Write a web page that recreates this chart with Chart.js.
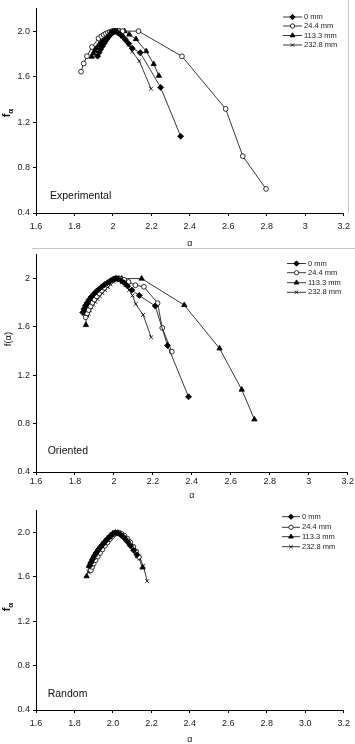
<!DOCTYPE html>
<html><head><meta charset="utf-8">
<script src="https://cdn.jsdelivr.net/npm/chart.js@4.4.1/dist/chart.umd.min.js"></script>
<style>
html,body{margin:0;padding:0;background:#fff;width:355px;height:744px;overflow:hidden;}
.panel{position:absolute;left:0;width:355px;}
</style></head><body>
<div class="panel" style="top:0;height:250px"><canvas id="c1"></canvas></div>
<div class="panel" style="top:246px;height:256px"><canvas id="c2"></canvas></div>
<div class="panel" style="top:502px;height:244px"><canvas id="c3"></canvas></div>
<script>
// ---- common tick labels ----
const xTickValues = [1.6,1.8,2.0,2.2,2.4,2.6,2.8,3.0,3.2];
const xLabelsGeneral = ['1.6','1.8','2','2.2','2.4','2.6','2.8','3','3.2'];
const xLabelsFixed = ['1.6','1.8','2.0','2.2','2.4','2.6','2.8','3.0','3.2'];
const yTickValues = [0.4,0.8,1.2,1.6,2.0];
const yLabelsFixed = ['0.4','0.8','1.2','1.6','2.0'];
const yLabelsGeneral = ['0.4','0.8','1.2','1.6','2'];
const seriesNames = ['0 mm','24.4 mm','113.3 mm','232.8 mm'];

// ---- Experimental ----
const expA_0   = [1.920,1.928,1.936,1.945,1.953,1.961,1.970,1.978,1.986,1.993,2.000,2.007,2.014,2.022,2.030,2.040,2.052,2.066,2.082,2.100,2.142,2.248,2.352];
const expF_0   = [1.780,1.812,1.840,1.866,1.890,1.912,1.933,1.952,1.970,1.985,1.995,2.000,1.998,1.992,1.982,1.968,1.948,1.922,1.890,1.850,1.810,1.505,1.075];
const expA_24  = [1.834,1.848,1.865,1.891,1.925,1.940,1.952,1.963,1.974,1.984,1.993,2.000,2.008,2.018,2.030,2.050,2.133,2.359,2.586,2.675,2.796];
const expF_24  = [1.643,1.715,1.780,1.860,1.937,1.955,1.968,1.978,1.987,1.993,1.998,2.000,2.000,2.000,2.000,2.000,2.000,1.778,1.316,0.900,0.612];
const expA_113 = [1.890,1.898,1.906,1.915,1.925,1.935,1.946,1.957,1.968,1.979,1.990,2.000,2.010,2.022,2.036,2.060,2.085,2.120,2.173,2.212,2.239];
const expF_113 = [1.775,1.805,1.830,1.852,1.873,1.893,1.912,1.930,1.948,1.965,1.980,1.992,1.998,2.000,1.998,2.000,1.970,1.930,1.823,1.710,1.607];
const expA_232 = [1.900,1.908,1.916,1.925,1.934,1.944,1.955,1.966,1.977,1.988,1.998,2.008,2.020,2.034,2.050,2.066,2.083,2.100,2.137,2.198];
const expF_232 = [1.800,1.826,1.850,1.872,1.892,1.910,1.930,1.948,1.964,1.978,1.988,1.993,1.988,1.975,1.955,1.925,1.880,1.820,1.737,1.493];

// ---- Oriented ----
const oriA_0   = [1.840,1.846,1.853,1.862,1.872,1.883,1.895,1.908,1.922,1.937,1.952,1.967,1.982,1.995,2.008,2.022,2.036,2.052,2.070,2.092,2.130,2.212,2.275,2.383];
const oriF_0   = [1.720,1.748,1.775,1.800,1.825,1.848,1.870,1.892,1.912,1.932,1.950,1.966,1.982,1.993,2.000,1.997,1.985,1.965,1.938,1.905,1.860,1.773,1.446,1.022];
const oriA_24  = [1.855,1.862,1.870,1.880,1.890,1.900,1.912,1.925,1.938,1.952,1.966,1.980,1.993,2.005,2.018,2.034,2.052,2.075,2.110,2.154,2.224,2.248,2.297];
const oriF_24  = [1.680,1.712,1.740,1.770,1.800,1.826,1.852,1.876,1.900,1.924,1.948,1.968,1.985,1.996,2.000,1.998,1.990,1.972,1.945,1.932,1.797,1.592,1.395];
const oriA_113 = [1.856,1.858,1.862,1.870,1.880,1.892,1.905,1.918,1.932,1.946,1.960,1.974,1.988,2.000,2.012,2.025,2.040,2.142,2.361,2.542,2.656,2.721];
const oriF_113 = [1.616,1.700,1.735,1.765,1.795,1.822,1.848,1.872,1.895,1.918,1.940,1.962,1.982,1.995,2.000,2.000,2.000,2.000,1.781,1.422,1.081,0.835];
const oriA_232 = [1.870,1.877,1.885,1.894,1.904,1.915,1.927,1.940,1.954,1.968,1.982,1.996,2.010,2.025,2.042,2.060,2.078,2.095,2.112,2.150,2.191];
const oriF_232 = [1.710,1.738,1.762,1.785,1.808,1.832,1.856,1.880,1.905,1.930,1.955,1.975,1.988,1.988,1.972,1.945,1.905,1.860,1.790,1.700,1.514];

// ---- Random ----
const rndA_0   = [1.880,1.887,1.895,1.904,1.914,1.925,1.937,1.950,1.963,1.976,1.989,2.000,2.012,2.024,2.037,2.050,2.063,2.077,2.092,2.108,2.125];
const rndF_0   = [1.700,1.730,1.760,1.790,1.818,1.846,1.872,1.898,1.924,1.948,1.970,1.990,1.998,1.995,1.985,1.968,1.945,1.915,1.880,1.840,1.800];
const rndA_24  = [1.885,1.892,1.900,1.910,1.921,1.933,1.945,1.958,1.971,1.984,1.996,2.008,2.020,2.033,2.046,2.060,2.075,2.090,2.106,2.120,2.135];
const rndF_24  = [1.660,1.690,1.720,1.752,1.784,1.816,1.848,1.880,1.910,1.940,1.965,1.985,1.997,1.998,1.988,1.970,1.945,1.912,1.872,1.830,1.780];
const rndA_113 = [1.863,1.875,1.884,1.894,1.905,1.917,1.930,1.944,1.958,1.972,1.986,2.000,2.013,2.026,2.040,2.054,2.070,2.088,2.108,2.130,2.154];
const rndF_113 = [1.606,1.700,1.735,1.770,1.803,1.835,1.866,1.896,1.924,1.950,1.974,1.992,2.000,1.998,1.986,1.966,1.938,1.900,1.850,1.790,1.685];
const rndA_232 = [1.875,1.882,1.890,1.899,1.909,1.920,1.932,1.945,1.958,1.971,1.984,1.997,2.010,2.023,2.037,2.051,2.066,2.082,2.100,2.120,2.140,2.158,2.178];
const rndF_232 = [1.640,1.668,1.698,1.728,1.760,1.792,1.825,1.858,1.890,1.920,1.948,1.972,1.990,1.996,1.990,1.975,1.952,1.920,1.878,1.826,1.765,1.700,1.562];

const markerStyles = [
  {pointStyle:'rectRot', radius:3.0, fill:'#000'},
  {pointStyle:'circle', radius:2.4, fill:'#fff'},
  {pointStyle:'triangle', radius:3.1, fill:'#000'},
  {pointStyle:'crossRot', radius:2.8, fill:'#000'}
];
const FONT = '"Liberation Sans", Arial, Helvetica, sans-serif';

const decor = {
  id:'decor',
  afterDraw(chart, args, o){
    const ctx = chart.ctx;
    const H = Chart.helpers;
    ctx.save();
    if (o.extraLines) {
      ctx.strokeStyle = '#c8c8c8'; ctx.lineWidth = 1;
      o.extraLines.forEach(l=>{ctx.beginPath();ctx.moveTo(l[0],l[1]);ctx.lineTo(l[2],l[3]);ctx.stroke();});
    }
    // panel label
    ctx.fillStyle = '#111';
    ctx.font = o.labelSize + 'px ' + FONT;
    ctx.textBaseline = 'middle'; ctx.textAlign = 'left';
    ctx.fillText(o.label, o.labelX, o.labelY);
    // legend
    ctx.font = '7.5px ' + FONT;
    seriesNames.forEach((name,i)=>{
      const y = o.legY[i];
      ctx.strokeStyle = '#222'; ctx.lineWidth = 0.9;
      ctx.beginPath(); ctx.moveTo(o.legX1, y); ctx.lineTo(o.legX2, y); ctx.stroke();
      const m = markerStyles[i];
      ctx.fillStyle = m.fill; ctx.strokeStyle = '#000'; ctx.lineWidth = 0.8;
      H.drawPoint(ctx, {pointStyle:m.pointStyle, radius:m.radius*0.9, rotation:0, borderWidth:0.8}, (o.legX1+o.legX2)/2, y);
      ctx.fillStyle = '#222';
      ctx.fillText(name, o.legTX, y);
    });
    // y title
    ctx.translate(o.yTitleX, o.yTitleY);
    ctx.rotate(-Math.PI/2);
    ctx.fillStyle = '#111';
    if (o.ySub) {
      ctx.font = 'bold 11px ' + FONT;
      const w1 = ctx.measureText(o.yMain).width;
      ctx.font = 'bold 8px ' + FONT;
      const w2 = ctx.measureText(o.ySub).width;
      const start = -(w1+w2)/2;
      ctx.textAlign = 'left'; ctx.textBaseline = 'middle';
      ctx.font = 'bold 11px ' + FONT;
      ctx.fillText(o.yMain, start, -1);
      ctx.font = 'bold 8px ' + FONT;
      ctx.fillText(o.ySub, start + w1, 2.5);
    } else {
      ctx.font = '9.5px ' + FONT;
      ctx.textAlign = 'center'; ctx.textBaseline = 'middle';
      ctx.fillText(o.yMain, 0, 0);
    }
    ctx.restore();
  }
};

function makeChart(id, Hgt, top, bottom, aArrs, fArrs, xLabels, yLabels, xPad, decorOpts) {
  const datasets = aArrs.map((a, k) => ({
    label: seriesNames[k],
    data: a.map((v, i) => ({x: v, y: fArrs[k][i]})),
    showLine: true,
    borderColor: '#222',
    borderWidth: 0.9,
    pointStyle: markerStyles[k].pointStyle,
    pointRadius: markerStyles[k].radius,
    pointBackgroundColor: markerStyles[k].fill,
    pointBorderColor: '#000',
    pointBorderWidth: 0.8,
    tension: 0
  }));
  return new Chart(document.getElementById(id), {
    type: 'scatter',
    data: {datasets},
    options: {
      responsive: true, maintainAspectRatio: false, animation: false,
      layout: {padding: {top: top, left: 0, right: 7, bottom: 0}},
      plugins: {legend: {display: false}, tooltip: {enabled: false}, decor: decorOpts},
      scales: {
        x: {
          type: 'linear', min: 1.6, max: 3.2,
          afterFit(s){ s.height = Hgt - bottom; },
          afterBuildTicks(s){ s.ticks = xTickValues.map(v => ({value: v})); },
          ticks: {callback: (v, i) => xLabels[i], font: {size: 9, family: FONT}, color: '#222', padding: xPad, maxRotation: 0, autoSkip: false},
          grid: {drawOnChartArea: false, drawTicks: true, tickLength: 3, color: '#000', lineWidth: 1},
          border: {color: '#000', width: 1},
          title: {display: true, text: 'α', font: {size: 9, family: FONT}, color: '#222', padding: {top: 0, bottom: 0.6}}
        },
        y: {
          type: 'linear', min: 0.4, max: 2.2,
          afterFit(s){ s.width = 36; },
          afterBuildTicks(s){ s.ticks = yTickValues.map(v => ({value: v})); },
          ticks: {callback: (v, i) => yLabels[i], font: {size: 9, family: FONT}, color: '#222', padding: 3, autoSkip: false},
          grid: {drawOnChartArea: false, drawTicks: true, tickLength: 3, color: '#000', lineWidth: 1},
          border: {color: '#000', width: 1},
          title: {display: false}
        }
      }
    },
    plugins: [decor]
  });
}

makeChart('c1', 250, 3, 213,
  [expA_0, expA_24, expA_113, expA_232], [expF_0, expF_24, expF_113, expF_232],
  xLabelsGeneral, yLabelsFixed, 5,
  {label:'Experimental', labelSize:10.5, labelX:50, labelY:196,
   legX1:283, legX2:302, legTX:304, legY:[17,26,35.5,45],
   yTitleX:8, yTitleY:113, yMain:'f', ySub:'α',
   extraLines:[[32,248.5,355,248.5],[348.5,0,348.5,213]]});

makeChart('c2', 256, 4, 226,
  [oriA_0, oriA_24, oriA_113, oriA_232], [oriF_0, oriF_24, oriF_113, oriF_232],
  xLabelsGeneral, yLabelsGeneral, 1,
  {label:'Oriented', labelSize:10.5, labelX:47.7, labelY:204.7,
   legX1:287, legX2:306, legTX:308, legY:[17.5,26.7,36.7,46.3],
   yTitleX:8, yTitleY:93, yMain:'f(α)', ySub:null});

makeChart('c3', 244, 3, 208,
  [rndA_0, rndA_24, rndA_113, rndA_232], [rndF_0, rndF_24, rndF_113, rndF_232],
  xLabelsFixed, yLabelsFixed, 5,
  {label:'Random', labelSize:10.5, labelX:47.7, labelY:192.3,
   legX1:282, legX2:300, legTX:302, legY:[14.7,25.3,34.7,44.7],
   yTitleX:8, yTitleY:105, yMain:'f', ySub:'α'});
</script>
</body></html>
